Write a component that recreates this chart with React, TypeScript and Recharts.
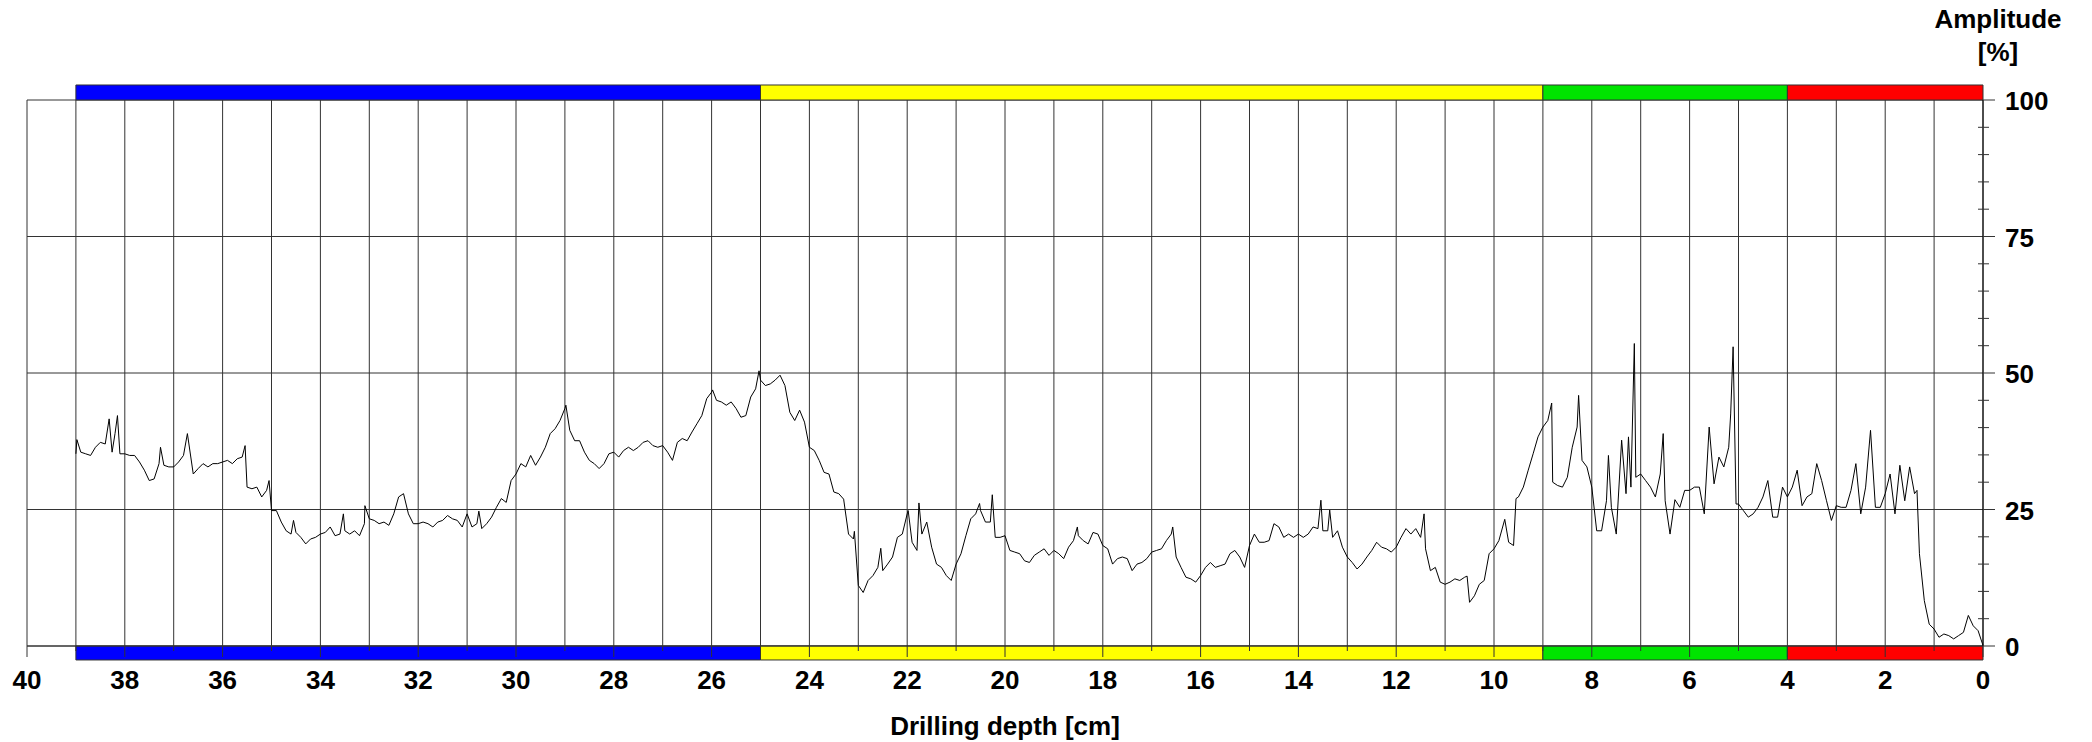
import { LineChart, Line, XAxis, YAxis, CartesianGrid, ReferenceArea } from 'recharts'

// drilling depth in cm (deepest first)
const depth = [
  39.0, 38.98, 38.9, 38.8, 38.7, 38.6, 38.5, 38.4, 38.32, 38.26, 38.2, 38.15, 38.1,
  38.0, 37.9, 37.8, 37.7, 37.6, 37.5, 37.4, 37.3, 37.27, 37.2, 37.1,
  37.0, 36.9, 36.8, 36.72, 36.6, 36.5, 36.4, 36.3, 36.2, 36.1,
  36.0, 35.9, 35.8, 35.7, 35.6, 35.54, 35.5, 35.4, 35.3, 35.2, 35.1, 35.05,
  35.0, 34.9, 34.8, 34.7, 34.6, 34.55, 34.5, 34.4, 34.3, 34.2, 34.1,
  34.0, 33.9, 33.8, 33.7, 33.6, 33.53, 33.5, 33.4, 33.3, 33.2, 33.1, 33.09,
  33.0, 32.9, 32.8, 32.7, 32.6, 32.5, 32.4, 32.3, 32.2, 32.1,
  32.0, 31.9, 31.8, 31.7, 31.6, 31.5, 31.4, 31.3, 31.2, 31.1,
  31.0, 30.9, 30.8, 30.76, 30.7, 30.6, 30.5, 30.4, 30.3, 30.2, 30.1,
  30.0, 29.9, 29.8, 29.7, 29.6, 29.5, 29.4, 29.3, 29.2, 29.1,
  29.0, 28.98, 28.9, 28.8, 28.7, 28.6, 28.5, 28.4, 28.3, 28.2, 28.1,
  28.0, 27.9, 27.8, 27.7, 27.6, 27.5, 27.4, 27.3, 27.2, 27.1,
  27.0, 26.9, 26.8, 26.7, 26.6, 26.5, 26.4, 26.3, 26.2, 26.1,
  26.0, 25.98, 25.9, 25.8, 25.7, 25.6, 25.5, 25.4, 25.3, 25.2, 25.1, 25.03,
  25.0, 24.9, 24.8, 24.7, 24.6, 24.5, 24.4, 24.3, 24.2, 24.1,
  24.0, 23.9, 23.8, 23.7, 23.6, 23.5, 23.4, 23.3, 23.2, 23.1, 23.08,
  23.0, 22.9, 22.8, 22.7, 22.6, 22.54, 22.5, 22.4, 22.3, 22.2, 22.1,
  22.0, 21.98, 21.9, 21.8, 21.76, 21.7, 21.6, 21.5, 21.4, 21.3, 21.2, 21.1,
  21.0, 20.9, 20.8, 20.7, 20.6, 20.52, 20.5, 20.4, 20.3, 20.26, 20.2, 20.1,
  20.0, 19.9, 19.8, 19.7, 19.6, 19.5, 19.4, 19.3, 19.2, 19.1,
  19.0, 18.9, 18.8, 18.7, 18.6, 18.52, 18.5, 18.4, 18.3, 18.2, 18.1,
  18.0, 17.9, 17.8, 17.7, 17.6, 17.5, 17.4, 17.3, 17.2, 17.1,
  17.0, 16.9, 16.8, 16.7, 16.6, 16.57, 16.5, 16.4, 16.3, 16.2, 16.1,
  16.0, 15.9, 15.8, 15.7, 15.6, 15.5, 15.4, 15.3, 15.2, 15.1,
  15.0, 14.9, 14.8, 14.7, 14.6, 14.5, 14.4, 14.3, 14.2, 14.1,
  14.0, 13.9, 13.8, 13.7, 13.6, 13.54, 13.5, 13.4, 13.36, 13.3, 13.2, 13.1,
  13.0, 12.9, 12.8, 12.7, 12.6, 12.5, 12.4, 12.3, 12.2, 12.1,
  12.0, 11.9, 11.8, 11.7, 11.6, 11.5, 11.43, 11.4, 11.3, 11.2, 11.1,
  11.0, 10.9, 10.8, 10.7, 10.6, 10.55, 10.5, 10.4, 10.3, 10.2, 10.1,
  10.0, 9.9, 9.78, 9.7, 9.6, 9.55, 9.5, 9.4, 9.3, 9.2, 9.1,
  9.0, 8.9, 8.82, 8.8, 8.7, 8.6, 8.5, 8.4, 8.3, 8.27, 8.2, 8.1,
  8.0, 7.9, 7.8, 7.7, 7.66, 7.6, 7.5, 7.39, 7.3, 7.25, 7.2, 7.13, 7.1,
  7.0, 6.9, 6.8, 6.7, 6.6, 6.54, 6.5, 6.4, 6.3, 6.2, 6.1,
  6.0, 5.9, 5.8, 5.7, 5.6, 5.5, 5.4, 5.3, 5.2, 5.16, 5.11, 5.05,
  5.0, 4.9, 4.8, 4.7, 4.6, 4.5, 4.4, 4.3, 4.2, 4.1,
  4.0, 3.9, 3.8, 3.7, 3.6, 3.5, 3.4, 3.3, 3.2, 3.1,
  3.0, 2.9, 2.8, 2.7, 2.6, 2.5, 2.4, 2.3, 2.2, 2.1,
  2.0, 1.9, 1.8, 1.7, 1.6, 1.5, 1.4, 1.35, 1.3, 1.2, 1.1,
  1.0, 0.9, 0.8, 0.7, 0.6, 0.5, 0.4, 0.3, 0.2, 0.1, 0.0,
]

// amplitude in %
const amplitude = [
  35.2, 37.8, 35.5, 35.2, 34.9, 36.4, 37.3, 37.0, 41.6, 35.5, 38.9, 42.2, 35.2,
  35.2, 34.9, 34.9, 33.7, 32.2, 30.3, 30.6, 33.4, 36.4, 33.1, 32.8,
  32.8, 33.7, 34.9, 38.9, 31.5, 32.5, 33.4, 32.8, 33.4, 33.4,
  33.7, 34.0, 33.4, 34.3, 34.6, 36.7, 29.1, 28.8, 29.1, 27.3, 28.5, 30.3,
  24.8, 24.8, 22.7, 21.1, 20.5, 23.0, 20.8, 19.9, 18.7, 19.6, 19.9,
  20.5, 20.8, 21.8, 20.2, 20.5, 24.2, 21.1, 20.5, 21.1, 20.2, 22.4, 25.7,
  23.3, 23.0, 22.4, 22.7, 22.1, 24.2, 27.3, 27.9, 24.2, 22.4,
  22.4, 22.7, 22.4, 21.8, 22.7, 23.0, 23.9, 23.3, 23.0, 21.8,
  24.2, 21.8, 22.4, 24.7, 21.5, 22.4, 23.6, 25.4, 27.0, 26.3, 30.3,
  31.5, 33.4, 32.8, 34.9, 33.1, 34.6, 36.4, 38.9, 39.8, 41.3,
  43.5, 44.1, 39.5, 37.6, 37.6, 35.5, 34.0, 33.4, 32.5, 33.4, 35.2,
  35.5, 34.6, 35.8, 36.4, 35.8, 36.4, 37.3, 37.6, 36.7, 36.4,
  36.7, 35.5, 34.0, 37.3, 38.0, 37.6, 39.2, 40.7, 42.2, 45.3,
  46.5, 46.9, 45.0, 44.7, 44.1, 44.7, 43.5, 41.9, 42.2, 45.6, 47.1, 50.4,
  48.7, 47.7, 48.0, 48.7, 49.6, 47.7, 42.8, 41.3, 43.2, 41.0,
  36.4, 35.8, 34.0, 31.8, 31.5, 28.2, 27.9, 26.9, 20.5, 19.6, 21.0,
  11.1, 9.8, 12.0, 12.9, 14.4, 17.9, 13.8, 15.0, 16.3, 19.9, 20.5,
  24.2, 24.8, 19.0, 17.5, 26.2, 20.5, 22.7, 18.1, 15.0, 14.4, 12.9, 12.0,
  15.0, 16.9, 20.2, 23.3, 24.2, 26.1, 24.8, 22.7, 22.7, 27.7, 19.9, 19.9,
  20.2, 17.5, 17.2, 16.9, 15.6, 15.3, 16.6, 17.2, 17.8, 16.6,
  17.5, 16.9, 16.0, 18.1, 19.3, 21.8, 20.2, 19.3, 18.7, 20.8, 20.5,
  18.4, 17.8, 15.0, 16.0, 16.3, 16.0, 13.8, 15.0, 15.3, 16.0,
  17.2, 17.5, 17.8, 19.3, 20.5, 21.8, 16.3, 14.4, 12.6, 12.3, 11.7,
  12.9, 14.4, 15.3, 14.4, 14.7, 15.0, 16.9, 17.5, 16.3, 14.4,
  18.4, 20.5, 19.0, 19.0, 19.3, 22.4, 21.8, 19.9, 20.5, 19.9,
  20.5, 19.9, 20.5, 21.8, 21.5, 26.7, 21.1, 21.1, 24.9, 19.9, 21.1, 18.1,
  16.3, 15.3, 14.1, 15.0, 16.3, 17.5, 19.0, 18.1, 17.8, 17.2,
  18.1, 19.9, 21.5, 20.5, 21.5, 19.9, 24.2, 17.8, 13.8, 14.4, 11.7,
  11.3, 11.7, 12.3, 12.0, 12.6, 12.8, 8.0, 9.2, 11.3, 12.0, 16.9,
  17.8, 19.3, 23.2, 19.0, 18.4, 27.0, 27.3, 29.1, 32.2, 35.2, 38.3,
  40.1, 41.3, 44.5, 30.0, 29.4, 29.1, 30.9, 36.4, 40.1, 45.9, 34.0, 32.8,
  29.1, 21.1, 21.1, 26.6, 34.9, 25.4, 20.5, 37.7, 27.9, 38.3, 29.1, 55.4, 30.9,
  31.5, 30.3, 29.1, 27.3, 31.5, 38.9, 26.6, 20.5, 26.8, 25.4, 28.5,
  28.5, 29.1, 29.1, 24.2, 40.1, 29.7, 34.6, 32.8, 36.4, 42.5, 54.8, 26.0,
  26.0, 24.8, 23.6, 24.2, 25.4, 27.3, 30.3, 23.6, 23.6, 29.1,
  27.3, 29.1, 32.2, 25.7, 27.3, 27.9, 33.4, 30.3, 26.6, 23.0,
  25.7, 25.4, 25.4, 28.5, 33.4, 24.2, 29.1, 39.5, 25.4, 25.4,
  27.9, 31.5, 24.2, 33.1, 26.6, 32.8, 27.9, 28.5, 16.9, 8.3, 4.0,
  3.1, 1.6, 2.2, 1.9, 1.3, 1.9, 2.5, 5.6, 3.7, 2.8, 0.1,
]

// coloured zone bars (depth ranges)
const zoneFrom = [39, 25, 9, 4]
const zoneTo = [25, 9, 4, 0]
const zoneColors = ['#0000ff', '#ffff00', '#00e400', '#ff0000']

const xTicks = [0, 1, 2, 3, 4, 5, 6, 7, 8, 9, 10, 11, 12, 13, 14, 15, 16, 17, 18, 19, 20,
  21, 22, 23, 24, 25, 26, 27, 28, 29, 30, 31, 32, 33, 34, 35, 36, 37, 38, 39, 40]
const yTicks = [0, 5, 10, 15, 20, 25, 30, 35, 40, 45, 50, 55, 60, 65, 70, 75, 80, 85, 90, 95, 100]
const yGrid = [0, 25, 50, 75, 100]

const data = depth.map((d, i) => ({ depth: d, amp: amplitude[i] }))

const FONT = "'Liberation Sans', Arial, Helvetica, sans-serif"
const LINE = '#333'

const XTick = (props: any) => {
  const { x, y, payload } = props
  const v = payload.value
  const major = v % 2 === 0
  return (
    <g>
      <line x1={x} x2={x} y1={y} y2={y + (major ? 11 : 5)} stroke={LINE} strokeWidth={1} />
      {major && (
        <text x={x} y={y + 43} textAnchor="middle" fontFamily={FONT} fontWeight="bold" fontSize={26} fill="#000">
          {v}
        </text>
      )}
    </g>
  )
}

const YTick = (props: any) => {
  const { x, y, payload } = props
  const v = payload.value
  const major = v % 25 === 0
  return (
    <g>
      {major ? (
        <line x1={x} x2={x + 12} y1={y} y2={y} stroke={LINE} strokeWidth={1} />
      ) : (
        <line x1={x - 5} x2={x + 6} y1={y} y2={y} stroke={LINE} strokeWidth={1} />
      )}
      {major && (
        <text x={x + 22} y={y + 10} textAnchor="start" fontFamily={FONT} fontWeight="bold" fontSize={26} fill="#000">
          {v}
        </text>
      )}
    </g>
  )
}

export default function App() {
  return (
    <div style={{ position: 'relative', width: 2092, height: 742, background: '#fff' }}>
      <style>{'body{margin:0;background:#fff}'}</style>
      <LineChart width={2092} height={742} data={data} margin={{ top: 100, right: 9, bottom: 36, left: 27 }}>
        <CartesianGrid stroke={LINE} strokeWidth={1} horizontalValues={yGrid} verticalValues={xTicks} />
        {zoneColors.map((c, i) => (
          <ReferenceArea key={`top-${i}`} x1={zoneFrom[i]} x2={zoneTo[i]} y1={100} y2={102.75}
            fill={c} fillOpacity={1} stroke={LINE} strokeWidth={1} ifOverflow="visible" />
        ))}
        {zoneColors.map((c, i) => (
          <ReferenceArea key={`bot-${i}`} x1={zoneFrom[i]} x2={zoneTo[i]} y1={-2.56} y2={0}
            fill={c} fillOpacity={1} stroke={LINE} strokeWidth={1} ifOverflow="visible" />
        ))}
        <XAxis type="number" dataKey="depth" domain={[0, 40]} reversed ticks={xTicks} interval={0}
          height={60} tickSize={0} tickMargin={0} tickLine={false} axisLine={{ stroke: LINE }} tick={<XTick />} />
        <YAxis orientation="right" type="number" domain={[0, 100]} ticks={yTicks} interval={0}
          width={100} tickSize={0} tickMargin={0} tickLine={false} axisLine={{ stroke: '#000' }} tick={<YTick />} />
        <Line type="linear" dataKey="amp" stroke="#000" strokeWidth={1} dot={false} isAnimationActive={false} />
      </LineChart>
      <svg width={2092} height={742} style={{ position: 'absolute', left: 0, top: 0, pointerEvents: 'none' }}>
        <text x={1998} y={28} textAnchor="middle" fontFamily={FONT} fontWeight="bold" fontSize={26}>Amplitude</text>
        <text x={1998} y={61} textAnchor="middle" fontFamily={FONT} fontWeight="bold" fontSize={26}>[%]</text>
        <text x={1005} y={735} textAnchor="middle" fontFamily={FONT} fontWeight="bold" fontSize={26}>Drilling depth [cm]</text>
      </svg>
    </div>
  )
}
